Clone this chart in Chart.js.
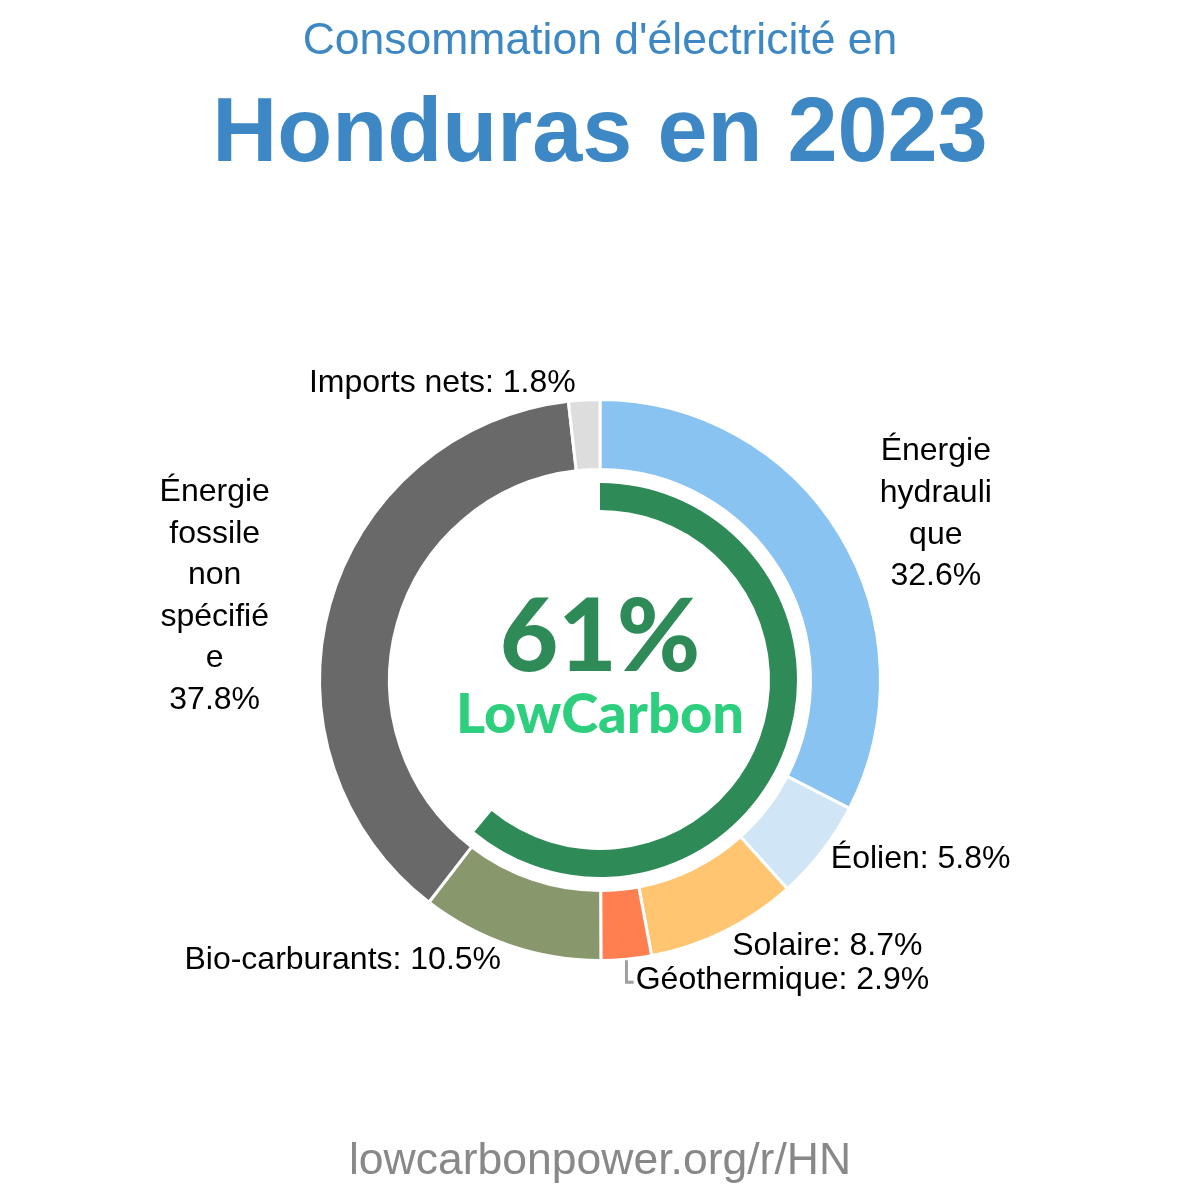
<!DOCTYPE html>
<html>
<head>
<meta charset="utf-8">
<script src="https://cdn.jsdelivr.net/npm/chart.js@4.4.0/dist/chart.umd.min.js"></script>
<style>
    html, body { margin: 0; padding: 0; background: #fff; }
    #wrap { width: 1200px; height: 1200px; }
</style>
</head>
<body>
<div id="wrap"><canvas id="mixChart" width="1200" height="1200"></canvas></div>
<script>
/* Consommation d'électricité - Honduras 2023 (donut + anneau bas carbone) */

const categories = ['Énergie hydraulique', 'Éolien', 'Solaire', 'Géothermique', 'Bio-carburants', 'Énergie fossile non spécifiée', 'Imports nets'];
const shares = [32.6, 5.8, 8.7, 2.9, 10.5, 37.8, 1.8];
const sourceColors = ['#89c3f2', '#d0e6f7', '#ffc570', '#ff7f50', '#88986c', '#696969', '#dddddd'];
const lowCarbonShare = 61;
const titleSmall = "Consommation d'électricité en";
const titleBig = 'Honduras en 2023';
const footerText = 'lowcarbonpower.org/r/HN';

// placement des étiquettes autour de l'anneau (décalage par rapport au point d'ancrage)
const LABEL_LAYOUT = [
    { align: 'center', dx: 75,  dy: -7, wrap: 115 },
    { align: 'left',   dx: -11, dy: -8 },
    { align: 'left',   dx: -3,  dy: -8 },
    { align: 'left',   dx: 7,   dy: -4, leader: true },
    { align: 'right',  dx: -1,  dy: -9 },
    { align: 'center', dx: -91, dy: -2, wrap: 115 },
    { align: 'right',  dx: -7,  dy: 8 },
];

const LABEL_FONT = '32px "Liberation Sans", Arial, sans-serif';
const LINE_H = 41.6;

function wrapText(ctx, text, maxW) {
    const out = [];
    let cur = '';
    text.split(' ').forEach(word => {
        const test = cur ? cur + ' ' + word : word;
        if (ctx.measureText(test).width <= maxW) { cur = test; return; }
        if (cur) out.push(cur);
        cur = '';
        // mot trop long: coupure caractère par caractère
        for (const ch of word) {
            if (ctx.measureText(cur + ch).width > maxW && cur) { out.push(cur); cur = ch; }
            else cur += ch;
        }
    });
    if (cur) out.push(cur);
    return out;
}

const labelPlugin = {
    id: 'ringLabels',
    afterDatasetsDraw(chart) {
        const ctx = chart.ctx;
        const meta = chart.getDatasetMeta(0);
        ctx.save();
        ctx.font = LABEL_FONT;
        ctx.fillStyle = '#000';
        ctx.textBaseline = 'middle';
        meta.data.forEach((arc, i) => {
            const p = arc.getProps(['x', 'y', 'startAngle', 'endAngle', 'outerRadius'], true);
            const mid = (p.startAngle + p.endAngle) / 2;
            const r = p.outerRadius + 25;
            const lay = LABEL_LAYOUT[i];
            const ax = p.x + Math.cos(mid) * r + lay.dx;
            const ay = p.y + Math.sin(mid) * r + lay.dy;
            const pct = shares[i].toFixed(1) + '%';
            const lines = lay.wrap
                ? [...wrapText(ctx, categories[i], lay.wrap), pct]
                : [categories[i] + ': ' + pct];
            ctx.textAlign = lay.align;
            const y0 = ay - (lines.length - 1) * LINE_H / 2;
            lines.forEach((ln, k) => ctx.fillText(ln, ax, y0 + k * LINE_H));

            if (lay.leader) {
                const sx = p.x + Math.cos(mid) * (p.outerRadius + 1);
                const sy = p.y + Math.sin(mid) * (p.outerRadius + 1);
                ctx.strokeStyle = '#a0a0a0';
                ctx.lineWidth = 3;
                ctx.beginPath();
                ctx.moveTo(sx, sy);
                ctx.lineTo(sx, ay + 2);
                ctx.lineTo(ax - 2, ay + 2);
                ctx.stroke();
            }
        });
        ctx.restore();
    }
};

const textPlugin = {
    id: 'pageTexts',
    afterDraw(chart) {
        const ctx = chart.ctx;
        const arc = chart.getDatasetMeta(0).data[0];
        const cx = arc.x, cy = arc.y;
        ctx.save();
        ctx.textAlign = 'center';
        ctx.textBaseline = 'alphabetic';

        ctx.fillStyle = '#3d88c4';
        ctx.font = '44.5px "Liberation Sans", Arial, sans-serif';
        ctx.fillText(titleSmall, 600, 54);
        ctx.font = 'bold 90px "Liberation Sans", Arial, sans-serif';
        ctx.fillText(titleBig, 600, 161);

        ctx.fillStyle = '#2e8b57';
        ctx.font = '900 101px Lato, sans-serif';
        ctx.fillText(lowCarbonShare + '%', cx, cy - 9);
        ctx.fillStyle = '#2dcf7e';
        ctx.font = '900 56px Lato, sans-serif';
        ctx.fillText('LowCarbon', cx, cy + 53);

        ctx.fillStyle = '#888888';
        ctx.font = '44.5px "Liberation Sans", Arial, sans-serif';
        ctx.fillText(footerText, 600, 1174);
        ctx.restore();
    }
};

const OUTER_R = 280.5;
const CUTOUT_R = 170;

new Chart(document.getElementById('mixChart').getContext('2d'), {
    type: 'doughnut',
    data: {
        labels: categories,
        datasets: [
            { data: shares, backgroundColor: sourceColors, borderColor: '#ffffff', borderWidth: 3, weight: 70 },
            { data: [1], backgroundColor: 'rgba(0,0,0,0)', borderWidth: 0, weight: 13.5 },
            { data: [lowCarbonShare, 100 - lowCarbonShare], backgroundColor: ['#2e8b57', 'rgba(0,0,0,0)'], borderWidth: 0, weight: 27 },
        ]
    },
    options: {
        responsive: false,
        animation: false,
        events: [],
        radius: OUTER_R,
        cutout: (CUTOUT_R / OUTER_R * 100) + '%',
        layout: { padding: { top: 160, left: 0, right: 0, bottom: 0 } },
        plugins: { legend: { display: false }, tooltip: { enabled: false } },
    },
    plugins: [labelPlugin, textPlugin]
});
</script>
</body>
</html>
